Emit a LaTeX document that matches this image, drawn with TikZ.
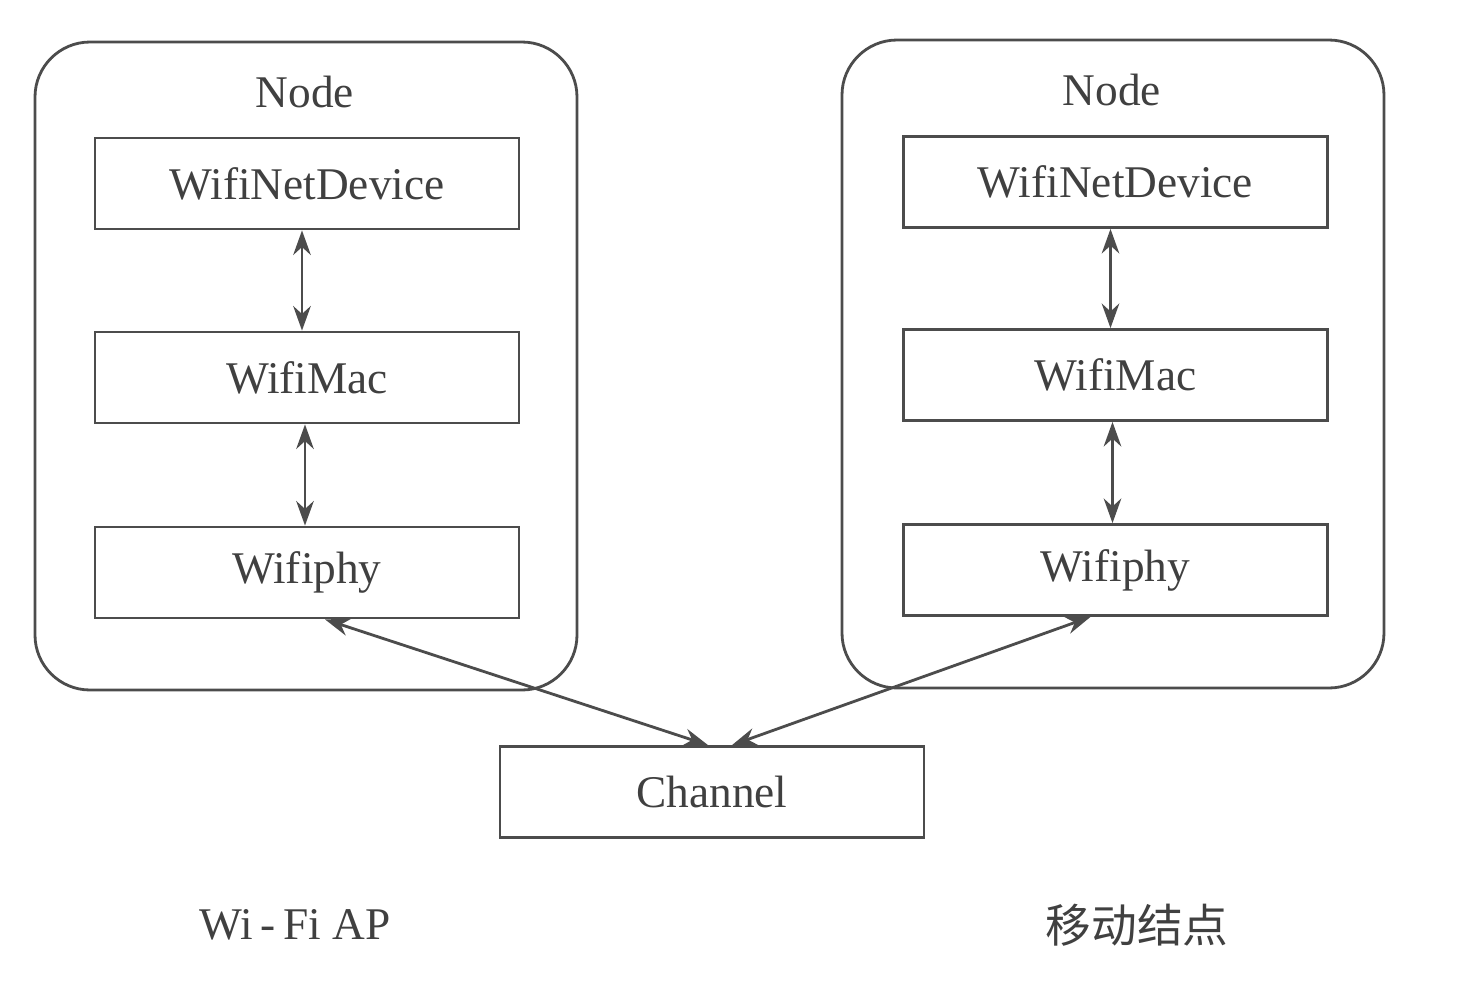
\documentclass[tikz,border=0pt]{standalone}
\usepackage{fontspec}
\setmainfont{Liberation Serif}
\newfontfamily\cjk{Noto Sans CJK SC}
\usepackage{xcolor}
\usetikzlibrary{arrows.meta, positioning}

\begin{document}
\begin{tikzpicture}[
  x=0.1mm, y=-0.1mm,
  outer/.style={draw=black!70, line width=0.8pt, rounded corners=0.55cm,
                minimum width=5.42cm, minimum height=6.48cm},
  layer/.style={draw=black!70, line width=0.8pt,
                minimum width=4.24cm, minimum height=0.91cm,
                font=\fontsize{12.9}{15}\selectfont, text=black!75},
  lbl/.style={font=\fontsize{12.9}{15}\selectfont, text=black!75},
  link/.style={{Stealth[length=7pt,width=5pt]}-{Stealth[length=7pt,width=5pt]},
               draw=black!70, line width=0.8pt}
]
  \useasboundingbox (0,0) rectangle (1461,1000);
  % Wi-Fi AP side
  \node[outer] (lnode) at (306, 366) {};
  \node[lbl]   (ltitle) at (305, 92) {Node};
  \node[layer] (ldev) at (307, 183.5) {WifiNetDevice};
  \node[layer] (lmac) at (307, 377.5) {WifiMac};
  \node[layer] (lphy) at (307, 572.5) {Wifiphy};
  % mobile node side
  \node[outer] (rnode) at (1113, 364) {};
  \node[lbl]   (rtitle) at (1112, 90) {Node};
  \node[layer] (rdev) at (1115.5, 182) {WifiNetDevice};
  \node[layer] (rmac) at (1115.5, 375) {WifiMac};
  \node[layer] (rphy) at (1115.5, 570) {Wifiphy};
  % channel
  \node[layer] (chan) at (712, 792) {Channel};
  % links inside the nodes
  \draw[link] ([xshift=-0.5mm]ldev.south) -- ([xshift=-0.5mm]lmac.north);
  \draw[link] ([xshift=-0.2mm]lmac.south) -- ([xshift=-0.2mm]lphy.north);
  \draw[link] ([xshift=-0.5mm]rdev.south) -- ([xshift=-0.5mm]rmac.north);
  \draw[link] ([xshift=-0.3mm]rmac.south) -- ([xshift=-0.3mm]rphy.north);
  % links to the channel
  \draw[link] ([xshift=1.8mm]lphy.south) -- ([xshift=-0.4mm]chan.north);
  \draw[link] ([xshift=-2.5mm]rphy.south) -- ([xshift=2mm]chan.north);
  % captions
  \node[lbl] (apcap) at (295, 925) {Wi\,-\,Fi AP};
  \node[lbl, font=\cjk\fontsize{13}{15}\selectfont] (stacap) at (1137, 925) {移动结点};
\end{tikzpicture}
\end{document}
